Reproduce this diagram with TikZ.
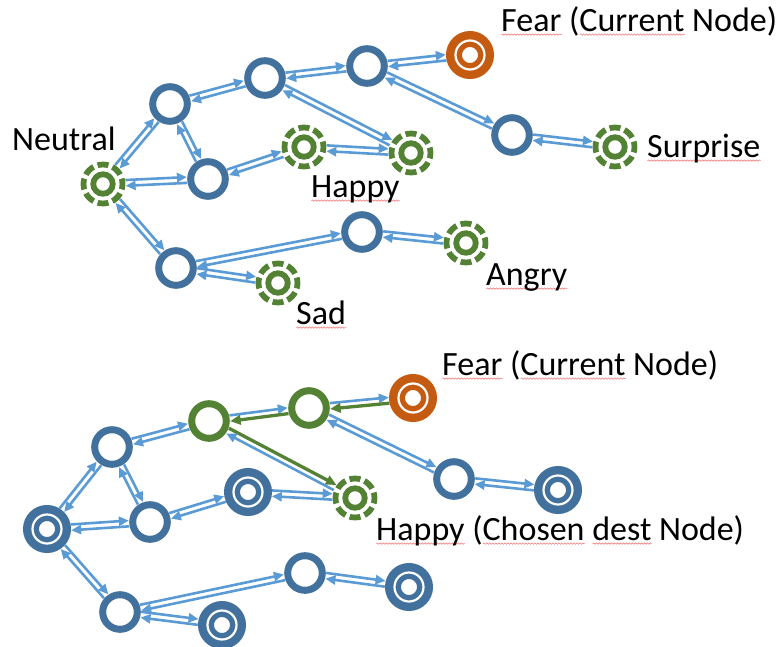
\documentclass[tikz,border=0pt]{standalone}
\usepackage{fontspec}
\setmainfont{Carlito}
\usetikzlibrary{calc,arrows.meta,decorations.pathmorphing}

\definecolor{ringblue}{RGB}{65,113,156}
\definecolor{linkblue}{RGB}{91,155,213}
\definecolor{moodgreen}{RGB}{84,130,53}
\definecolor{curorange}{RGB}{197,90,17}
\definecolor{squigred}{RGB}{238,120,120}

% wavy spell-check underline under a word
\newlength\spellwd
\newcommand\spell[1]{\settowidth\spellwd{#1}\leavevmode\rlap{\tikz[baseline=0pt]\draw[squigred, line width=0.6pt, decorate, decoration={snake, amplitude=0.7pt, segment length=3pt}] (0pt,-3.6pt) -- (\spellwd,-3.6pt);}#1}

\tikzset{
  ring/.style={circle, draw=#1, line width=7pt, minimum size=34.6pt, inner sep=0pt},
  dblring/.style={circle, draw=#1, line width=16pt, minimum size=32pt, inner sep=0pt,
    label={[circle, draw=white, line width=2.2pt, minimum size=29pt, inner sep=0pt, solid]center:{}}},
  moodring/.style={circle, draw=moodgreen, line width=5.8pt, minimum size=39pt, inner sep=0pt,
    dash pattern=on 11pt off 4.3pt, dash phase=5.5pt,
    label={[circle, draw=moodgreen, line width=5.8pt, minimum size=19.5pt, inner sep=0pt, solid]center:{}}},
  bluearr/.style={draw=linkblue, line width=2.6pt, -{Triangle[length=10pt,width=9pt]}},
  greenarr/.style={draw=moodgreen, line width=3.3pt, -{Triangle[length=10.5pt,width=9.5pt]}},
  tag/.style={anchor=base west, inner sep=0pt, font=\fontsize{34}{41}\selectfont},
}

% one arrow from #2 to #3, offset to its left; #4/#5 = radii of the end nodes
\newcommand\flowarrow[5]{\draw[#1, shorten <=#4pt, shorten >=#5pt]
  ($(#2.center)!2.9pt!90:(#3.center)$) -- ($(#3.center)!2.9pt!-90:(#2.center)$);}
% a pair of opposite blue arrows
\newcommand\twoway[4]{\flowarrow{bluearr}{#1}{#2}{#3}{#4}\flowarrow{bluearr}{#2}{#1}{#4}{#3}}

\def\rp{21}
\def\rd{24}
\def\rg{22.5}

\begin{document}
\begin{tikzpicture}[x=1pt,y=-1pt]
\useasboundingbox (0,0) rectangle (782,646);

% ---------- upper graph ----------
\node[moodring] (neu) at (103,184) {};
\node[ring=ringblue] (n1) at (170,104) {};
\node[ring=ringblue] (n2) at (265,78) {};
\node[ring=ringblue] (n3) at (367,66) {};
\node[dblring=curorange] (fear) at (470,55) {};
\node[ring=ringblue] (n4) at (208,179) {};
\node[moodring] (hap1) at (304,147) {};
\node[moodring] (hap2) at (411,153) {};
\node[ring=ringblue] (n5) at (512,135) {};
\node[moodring] (sur) at (615,147) {};
\node[ring=ringblue] (n6) at (176,268) {};
\node[ring=ringblue] (n7) at (362,232) {};
\node[moodring] (sad) at (278,283) {};
\node[moodring] (ang) at (466,243) {};

\twoway{neu}{n1}{\rg}{\rp}
\twoway{neu}{n4}{\rg}{\rp}
\twoway{neu}{n6}{\rg}{\rp}
\twoway{n1}{n2}{\rp}{\rp}
\twoway{n1}{n4}{\rp}{\rp}
\twoway{n2}{n3}{\rp}{\rp}
\twoway{n2}{hap2}{\rp}{\rg}
\twoway{n3}{fear}{\rp}{\rd}
\twoway{n3}{n5}{\rp}{\rp}
\twoway{n4}{hap1}{\rp}{\rg}
\twoway{hap1}{hap2}{\rg}{\rg}
\twoway{n5}{sur}{\rp}{\rg}
\twoway{n6}{n7}{\rp}{\rp}
\twoway{n6}{sad}{\rp}{\rg}
\twoway{n7}{ang}{\rp}{\rg}

\node[tag] (lneu) at (12,150) {Neutral};
\node[tag] (lfear) at (501,31) {\spell{Fear} (\spell{Current} Node)};
\node[tag] (lhap) at (311,197) {\spell{Happy}};
\node[tag] (lsur) at (647,157) {\spell{Surprise}};
\node[tag] (lang) at (486,285) {\spell{Angry}};
\node[tag] (lsad) at (296,324) {\spell{Sad}};

% ---------- lower graph ----------
\node[dblring=ringblue] (bneu) at (47,529) {};
\node[ring=ringblue] (b1) at (112,447) {};
\node[ring=moodgreen] (b2) at (209,421) {};
\node[ring=moodgreen] (b3) at (309,408) {};
\node[dblring=curorange] (bfear) at (413,398) {};
\node[ring=ringblue] (b4) at (150,522) {};
\node[dblring=ringblue] (bhap1) at (248,492) {};
\node[moodring] (bhap2) at (355,498) {};
\node[ring=ringblue] (b5) at (454,479) {};
\node[dblring=ringblue] (bsur) at (558,490) {};
\node[ring=ringblue] (b6) at (120,612) {};
\node[ring=ringblue] (b7) at (305,573) {};
\node[dblring=ringblue] (bsad) at (222,625) {};
\node[dblring=ringblue] (bang) at (409,587) {};

\twoway{bneu}{b1}{\rd}{\rp}
\twoway{bneu}{b4}{\rd}{\rp}
\twoway{bneu}{b6}{\rd}{\rp}
\twoway{b1}{b2}{\rp}{\rp}
\twoway{b1}{b4}{\rp}{\rp}
\flowarrow{bluearr}{b2}{b3}{\rp}{\rp}
\flowarrow{greenarr}{b3}{b2}{\rp}{\rp}
\flowarrow{greenarr}{b2}{bhap2}{\rp}{\rg}
\flowarrow{bluearr}{bhap2}{b2}{\rg}{\rp}
\flowarrow{bluearr}{b3}{bfear}{\rp}{\rd}
\flowarrow{greenarr}{bfear}{b3}{\rd}{\rp}
\twoway{b3}{b5}{\rp}{\rp}
\twoway{b4}{bhap1}{\rp}{\rd}
\twoway{bhap1}{bhap2}{\rd}{\rg}
\twoway{b5}{bsur}{\rp}{\rd}
\twoway{b6}{b7}{\rp}{\rp}
\twoway{b6}{bsad}{\rp}{\rd}
\twoway{b7}{bang}{\rp}{\rd}

\node[tag] (lbfear) at (442,375) {\spell{Fear} (\spell{Current} Node)};
\node[tag] (lbhap) at (376,540) {\spell{Happy} (\spell{Chosen} \spell{dest} Node)};
\end{tikzpicture}
\end{document}
